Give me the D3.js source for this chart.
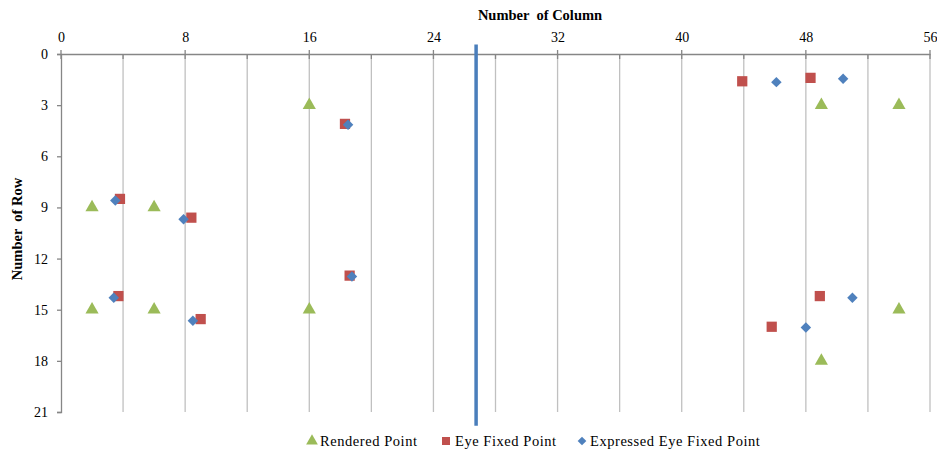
<!DOCTYPE html>
<html>
<head>
<meta charset="utf-8">
<script src="https://cdn.jsdelivr.net/npm/d3@7"></script>
<style>
body { margin: 0; background: #fff; }
text { font-family: "Liberation Serif", "Times New Roman", serif; fill: #000; }
</style>
</head>
<body>
<script>
// column / row values
var renderedX = [16, 49, 54, 2, 6, 2, 6, 16, 54, 49];
var renderedY = [3, 3, 3, 9, 9, 15, 15, 15, 15, 18];

var eyeX = [43.9, 48.3, 18.3, 18.6, 3.8, 8.4, 3.7, 9.0, 48.9, 45.8];
var eyeY = [1.6, 1.4, 4.1, 13.0, 8.5, 9.6, 14.2, 15.55, 14.2, 16.0];

var expX = [46.1, 50.4, 18.5, 18.75, 3.5, 7.9, 3.4, 8.5, 51.0, 48.0];
var expY = [1.65, 1.45, 4.15, 13.05, 8.6, 9.7, 14.3, 15.65, 14.3, 16.05];

var xTicks = [0, 8, 16, 24, 32, 40, 48, 56];
var yTicks = [0, 3, 6, 9, 12, 15, 18, 21];
var gridX = d3.range(0, 57, 4);

// divider line
var dividerX = 26.75,
    dividerY = [-0.55, 21.8];

var width = 937, height = 452;
var plotLeft = 61, plotRight = 930, plotTop = 54, plotBottom = 412;

var svg = d3.select("body").append("svg")
    .attr("width", width)
    .attr("height", height);

var x = d3.scaleLinear().domain([0, 56]).range([plotLeft, plotRight]);
var y = d3.scaleLinear().domain([0, 21]).range([plotTop, plotBottom]);

//vertical gridlines
svg.selectAll(".grid")
    .data(gridX.slice(1))
    .enter()
    .append("line")
    .attr("x1", function(d){ return x(d); })
    .attr("x2", function(d){ return x(d); })
    .attr("y1", plotTop)
    .attr("y2", plotBottom)
    .attr("stroke", "#c0c0c0")
    .attr("stroke-width", 1.3);

//top axis
var xAxis = d3.axisTop(x)
    .tickValues(xTicks)
    .tickSize(0)
    .tickPadding(12)
    .tickFormat(d3.format("d"));

var gx = svg.append("g")
    .attr("transform", "translate(0," + plotTop + ")")
    .call(xAxis);
gx.select(".domain").attr("stroke", "#868686").attr("stroke-width", 1.3);
gx.selectAll("text").style("font-size", "14px").style("font-family", "Liberation Serif");

//tick marks on top axis
svg.selectAll(".xtick")
    .data(gridX)
    .enter()
    .append("line")
    .attr("x1", function(d){ return x(d); })
    .attr("x2", function(d){ return x(d); })
    .attr("y1", function(d){ return d % 8 == 0 ? plotTop - 4 : plotTop; })
    .attr("y2", plotTop + 5)
    .attr("stroke", "#868686")
    .attr("stroke-width", 1.3);

//left axis
var yAxis = d3.axisLeft(y)
    .tickValues(yTicks)
    .tickSize(4)
    .tickPadding(9)
    .tickFormat(d3.format("d"));

var gy = svg.append("g")
    .attr("transform", "translate(" + plotLeft + ",0)")
    .call(yAxis);
gy.select(".domain").attr("stroke", "#868686").attr("stroke-width", 1.3);
gy.selectAll(".tick line").attr("stroke", "#868686").attr("stroke-width", 1.3);
gy.selectAll("text").style("font-size", "14px").style("font-family", "Liberation Serif");

//axis titles
svg.append("text")
    .attr("x", 540)
    .attr("y", 20)
    .attr("text-anchor", "middle")
    .style("font-size", "14.5px")
    .style("font-weight", "bold")
    .attr("xml:space", "preserve")
    .text("Number  of Column");

svg.append("text")
    .attr("transform", "translate(22," + 229 + ") rotate(-90)")
    .attr("text-anchor", "middle")
    .style("font-size", "14.5px")
    .style("font-weight", "bold")
    .attr("xml:space", "preserve")
    .text("Number  of Row");

//divider line
svg.append("line")
    .attr("x1", x(dividerX))
    .attr("x2", x(dividerX))
    .attr("y1", y(dividerY[0]))
    .attr("y2", y(dividerY[1]))
    .attr("stroke", "#4a7ebb")
    .attr("stroke-width", 3.5);

var colors = { rendered: "#9bbb59", eye: "#c0504d", exp: "#4f81bd" };

function drawPoints(xs, ys, symbol, size, color, rot){
    svg.selectAll(null)
        .data(xs.map(function(d, i){ return [d, ys[i]]; }))
        .enter()
        .append("path")
        .attr("d", d3.symbol().type(symbol).size(size))
        .attr("transform", function(d){
            return "translate(" + x(d[0]) + "," + y(d[1]) + ")" + (rot ? " rotate(" + rot + ")" : "");
        })
        .attr("fill", color);
}

drawPoints(renderedX, renderedY, d3.symbolTriangle, 75, colors.rendered);
drawPoints(eyeX, eyeY, d3.symbolSquare, 105, colors.eye);
drawPoints(expX, expY, d3.symbolSquare, 55, colors.exp, 45);

//legend
var legend = [
    { label: "Rendered Point", sym: d3.symbolTriangle, size: 60, color: colors.rendered, rot: 0, x: 312, tx: 320 },
    { label: "Eye Fixed Point", sym: d3.symbolSquare, size: 64, color: colors.eye, rot: 0, x: 446, tx: 455 },
    { label: "Expressed Eye Fixed Point", sym: d3.symbolSquare, size: 38, color: colors.exp, rot: 45, x: 582, tx: 590 }
];

var lg = svg.selectAll(".legend")
    .data(legend)
    .enter()
    .append("g");

lg.append("path")
    .attr("d", function(d){ return d3.symbol().type(d.sym).size(d.size)(); })
    .attr("transform", function(d){ return "translate(" + d.x + ",441) rotate(" + d.rot + ")"; })
    .attr("fill", function(d){ return d.color; });

lg.append("text")
    .attr("x", function(d){ return d.tx; })
    .attr("y", 446)
    .style("font-size", "14.5px")
    .style("letter-spacing", "0.55px")
    .text(function(d){ return d.label; });
</script>
</body>
</html>
